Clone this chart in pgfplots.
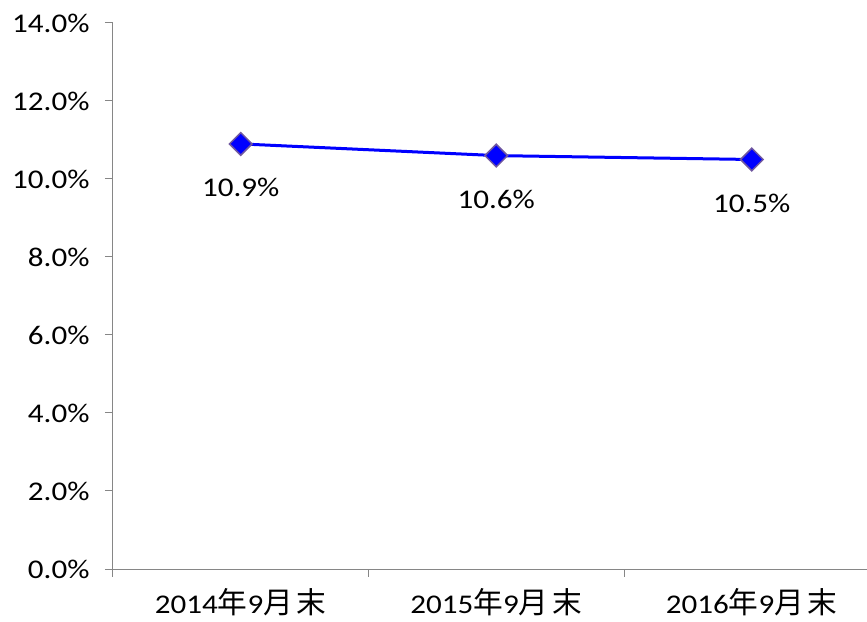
\documentclass[border=0pt]{standalone}
\usepackage{pgfplots}
\pgfplotsset{compat=1.18}
\usepackage{fontspec}
\setmainfont{Carlito}[FakeStretch=1.15]
\newfontfamily\cjk{Noto Sans CJK SC}[Scale=1.1]
\newcommand{\lab}[1]{#1{\cjk 年}9{\cjk 月\hspace{4bp}末}}
\definecolor{axgray}{RGB}{134,134,134}
\definecolor{mkedge}{RGB}{112,88,160}
\begin{document}
\begin{tikzpicture}
\begin{axis}[
  scale only axis,
  width=754bp, height=546bp,
  xmin=-0.5, xmax=2.451,
  ymin=0, ymax=14,
  axis lines=left,
  axis line style={-, axgray, line width=1bp},
  every tick/.style={axgray, line width=1bp},
  tick align=outside,
  major tick length=8bp,
  minor tick length=8bp,
  ytick={0,2,...,14},
  xtick={0,1,2},
  minor xtick={-0.5,0.5,1.5},
  major x tick style={draw=none},
  xticklabels={\lab{2014},\lab{2015},\lab{2016}},
  yticklabel={\pgfmathprintnumber[fixed,fixed zerofill,precision=1]{\tick}\%},
  /pgf/number format/assume math mode=true,
  ticklabel style={font=\fontsize{27bp}{32bp}\selectfont, text=black},
  yticklabel style={xshift=-12bp},
  xticklabel style={yshift=-10bp, inner sep=1bp},
  clip=false,
  nodes near coords={\pgfmathprintnumber[fixed,fixed zerofill,precision=1]{\pgfplotspointmeta}\%},
  nodes near coords style={anchor=center, yshift=-44bp, font=\fontsize{27bp}{32bp}\selectfont, text=black},
]
\addplot[blue, line width=3bp, mark=square*, mark size=8bp,
  mark options={rotate=45, fill=blue, draw=mkedge, line width=1.5bp}]
  coordinates {(0,10.9) (1,10.6) (2,10.5)};
\end{axis}
\pgfresetboundingbox
\path (current axis.south west) ++(-113bp,-53bp) rectangle ++(867bp,622bp);
\end{tikzpicture}
\end{document}
